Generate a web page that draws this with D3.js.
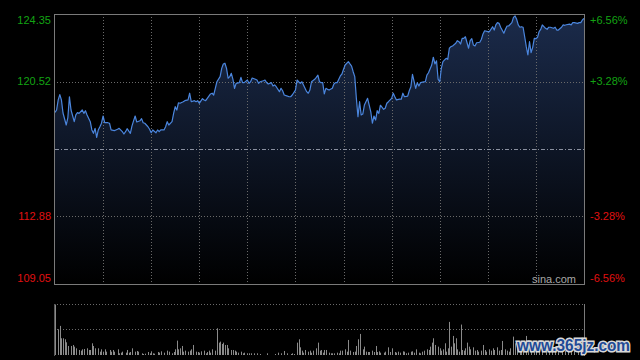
<!DOCTYPE html>
<html>
<head>
<meta charset="utf-8">
<script src="https://cdn.jsdelivr.net/npm/d3@7/dist/d3.min.js"></script>
<style>
    html, body { margin: 0; padding: 0; background: #000; }
    svg { display: block; }
    text { font-family: "Liberation Sans", Arial, sans-serif; }
</style>
</head>
<body>
<svg id="chart" width="640" height="360"></svg>
<script>
// price axis labels (left), percent labels (right) and previous close
var priceTicks = [124.35, 120.52, 112.88, 109.05];
var pctTicks = ["+6.56%", "+3.28%", "-3.28%", "-6.56%"];
var prevClose = 116.70;

// minute index since open (HK session, 330 minutes) and price
var lineMinute = [0, 1, 2, 3, 4, 5, 7, 8, 9, 10, 12, 13, 14, 15, 17, 18, 19, 20, 22, 23, 24, 25, 26, 27, 28, 29, 30, 31, 33, 34, 35, 37, 38, 39, 40, 42, 43, 44, 45, 47, 48, 49, 50, 51, 53, 54, 55, 56, 58, 59, 60, 61, 63, 64, 65, 66, 68, 69, 70, 71, 73, 74, 75, 76, 77, 78, 80, 81, 83, 84, 85, 87, 88, 89, 90, 92, 93, 94, 95, 97, 98, 99, 100, 101, 103, 104, 105, 106, 107, 108, 109, 110, 111, 112, 113, 115, 116, 117, 118, 120, 121, 122, 123, 125, 126, 127, 128, 130, 131, 132, 133, 135, 136, 137, 138, 140, 141, 142, 143, 145, 146, 147, 148, 150, 151, 152, 153, 154, 155, 157, 158, 159, 160, 162, 163, 164, 165, 166, 167, 168, 169, 170, 171, 173, 174, 175, 176, 178, 179, 180, 181, 183, 184, 185, 186, 187, 188, 189, 190, 191, 192, 193, 195, 196, 197, 198, 199, 200, 201, 202, 203, 205, 206, 207, 208, 210, 211, 212, 213, 215, 216, 217, 218, 220, 221, 222, 223, 225, 226, 227, 228, 230, 231, 232, 233, 235, 236, 237, 238, 239, 240, 241, 242, 244, 245, 246, 247, 248, 250, 251, 252, 253, 254, 255, 256, 258, 259, 260, 261, 262, 263, 265, 266, 267, 268, 270, 271, 273, 274, 275, 276, 277, 278, 280, 281, 282, 283, 285, 286, 287, 288, 289, 290, 291, 292, 293, 294, 295, 296, 297, 298, 299, 300, 301, 302, 303, 304, 306, 307, 308, 309, 311, 312, 313, 314, 316, 317, 318, 319, 321, 322, 323, 324, 326, 327, 328, 329, 330];
var linePrice = [118.78, 118.91, 119.48, 119.78, 119.48, 118.74, 118.06, 118.46, 119.66, 118.91, 118.25, 118.63, 118.76, 118.72, 118.91, 118.72, 118.87, 118.63, 118.25, 117.78, 117.59, 117.87, 117.36, 117.78, 117.96, 118.16, 118.57, 118.19, 118.19, 118.16, 117.78, 117.74, 117.78, 117.82, 117.87, 117.68, 117.55, 117.68, 117.85, 117.59, 118.00, 118.29, 118.57, 118.23, 118.30, 118.42, 118.19, 118.16, 117.96, 117.82, 117.62, 117.78, 117.62, 117.78, 117.68, 117.78, 117.78, 117.96, 118.25, 118.06, 118.25, 118.72, 119.10, 118.91, 119.32, 119.29, 119.38, 119.44, 119.48, 119.86, 119.38, 119.44, 119.38, 119.44, 119.29, 119.55, 119.48, 119.44, 119.57, 119.82, 119.86, 119.76, 120.14, 120.51, 120.80, 121.27, 121.52, 121.56, 121.27, 120.71, 120.80, 120.99, 120.65, 120.14, 120.42, 120.46, 120.76, 120.46, 120.46, 120.61, 120.42, 120.51, 120.72, 120.65, 120.61, 120.42, 120.51, 120.57, 120.61, 120.46, 120.38, 120.46, 120.27, 120.33, 120.23, 119.95, 120.14, 120.00, 119.76, 119.70, 119.66, 119.66, 119.76, 120.04, 120.61, 120.51, 120.42, 120.51, 120.33, 119.95, 119.86, 120.04, 120.51, 120.65, 120.76, 120.88, 120.51, 120.46, 120.46, 119.82, 120.14, 120.08, 120.04, 120.14, 120.38, 120.46, 120.46, 120.84, 120.95, 121.22, 121.46, 121.65, 121.52, 121.40, 121.08, 120.80, 119.57, 118.53, 119.38, 118.63, 118.68, 119.19, 119.57, 119.19, 118.81, 118.16, 118.57, 118.34, 118.87, 118.72, 119.18, 118.95, 119.01, 119.29, 119.38, 119.57, 119.86, 119.66, 119.48, 119.53, 119.52, 119.86, 119.66, 119.70, 120.00, 120.23, 120.93, 120.14, 120.46, 120.27, 120.46, 120.50, 120.51, 120.89, 121.02, 121.46, 121.90, 121.52, 121.70, 120.65, 120.51, 121.27, 121.65, 121.84, 121.78, 122.41, 122.50, 122.54, 122.69, 122.84, 122.78, 122.65, 122.97, 122.97, 123.06, 122.41, 122.84, 122.95, 122.59, 122.54, 122.72, 122.75, 122.92, 123.22, 123.40, 123.35, 123.35, 123.63, 123.44, 123.73, 123.86, 123.82, 123.60, 123.26, 123.48, 123.67, 123.67, 123.86, 124.16, 124.24, 124.05, 123.73, 123.60, 123.63, 123.60, 123.06, 122.50, 122.03, 122.78, 122.16, 122.46, 122.97, 122.95, 123.03, 123.35, 123.48, 123.73, 123.54, 123.48, 123.60, 123.60, 123.54, 123.60, 123.44, 123.44, 123.60, 123.73, 123.71, 123.74, 123.78, 123.73, 123.86, 123.86, 123.82, 123.86, 123.86, 124.01, 124.10];

// volume bars (relative units)
var volMinute = [0, 2, 3, 4, 5, 6, 7, 8, 10, 11, 12, 13, 15, 16, 17, 18, 20, 21, 22, 23, 24, 25, 27, 28, 29, 30, 31, 32, 34, 35, 36, 37, 39, 40, 41, 42, 44, 45, 46, 47, 48, 50, 51, 52, 54, 55, 56, 58, 59, 60, 61, 62, 64, 65, 66, 68, 70, 71, 73, 74, 75, 76, 77, 78, 79, 80, 81, 83, 84, 85, 86, 88, 89, 90, 91, 93, 94, 95, 96, 97, 98, 100, 101, 102, 103, 104, 105, 106, 107, 108, 110, 111, 112, 113, 114, 116, 117, 118, 120, 121, 122, 124, 126, 128, 132, 137, 139, 141, 143, 145, 147, 148, 149, 151, 152, 153, 154, 155, 156, 158, 159, 160, 161, 163, 164, 165, 166, 167, 168, 169, 171, 172, 173, 174, 176, 177, 178, 179, 181, 182, 183, 184, 186, 187, 188, 189, 190, 192, 193, 194, 195, 196, 198, 199, 200, 201, 202, 203, 205, 206, 208, 209, 210, 212, 213, 214, 215, 217, 218, 219, 220, 222, 223, 224, 225, 227, 228, 229, 230, 232, 233, 234, 235, 236, 237, 239, 240, 241, 242, 243, 244, 245, 246, 247, 248, 249, 250, 251, 252, 253, 254, 255, 256, 257, 258, 259, 261, 262, 263, 264, 266, 267, 268, 269, 271, 272, 273, 274, 276, 277, 278, 279, 281, 282, 283, 284, 286, 287, 288, 290, 291, 292, 294, 295, 297, 299, 300, 302, 304, 306, 308, 310, 312, 314, 316, 318, 320, 322, 324, 326, 328, 330];
var volValue = [151, 77, 87, 50, 50, 47, 38, 27, 27, 30, 25, 20, 15, 13, 17, 18, 20, 15, 15, 35, 27, 20, 20, 10, 17, 10, 17, 10, 15, 10, 15, 10, 17, 5, 7, 10, 7, 15, 7, 9, 20, 10, 12, 10, 5, 3, 4, 9, 5, 11, 5, 4, 9, 7, 11, 7, 13, 10, 5, 9, 17, 43, 17, 20, 27, 10, 13, 10, 13, 17, 30, 10, 9, 7, 11, 13, 5, 9, 13, 7, 17, 13, 80, 37, 40, 33, 37, 30, 30, 20, 15, 15, 13, 10, 7, 10, 5, 7, 5, 5, 5, 5, 5, 3, 5, 3, 7, 5, 12, 5, 3, 5, 3, 37, 47, 23, 13, 7, 15, 10, 13, 7, 13, 20, 37, 13, 15, 7, 15, 15, 7, 5, 5, 5, 7, 5, 13, 13, 17, 10, 45, 13, 9, 10, 27, 47, 63, 17, 25, 10, 9, 9, 13, 9, 27, 9, 11, 7, 7, 10, 23, 9, 20, 9, 7, 10, 7, 11, 10, 5, 7, 10, 11, 7, 17, 7, 5, 10, 13, 17, 15, 25, 37, 50, 30, 25, 20, 13, 17, 35, 10, 20, 99, 25, 57, 35, 50, 17, 10, 91, 15, 13, 20, 37, 25, 17, 23, 13, 15, 10, 13, 30, 15, 10, 17, 13, 20, 15, 23, 13, 15, 42, 17, 13, 10, 20, 55, 35, 20, 15, 25, 12, 57, 20, 15, 30, 18, 22, 15, 12, 20, 15, 10, 18, 25, 12, 15, 20, 12, 15, 25, 40];

var svg = d3.select("#chart");
var width = 640, height = 360;

svg.append("rect").attr("width", width).attr("height", height).attr("fill", "#000");

var x = d3.scaleLinear().domain([0, 330]).range([55, 584]);
var y = d3.scaleLinear().domain([109.05, 124.35]).range([284, 14]);
var yVol = d3.scaleLinear().domain([0, 151]).range([355, 304.5]);

/**
 * crisp 1px line position
 */
function px(v) {
    return Math.round(v) + 0.5;
}

// area gradient
var defs = svg.append("defs");
var grad = defs.append("linearGradient")
    .attr("id", "areaFill")
    .attr("gradientUnits", "userSpaceOnUse")
    .attr("x1", 0).attr("y1", 14).attr("x2", 0).attr("y2", 284);
grad.append("stop").attr("offset", 0).attr("stop-color", "#1b2b4b");
grad.append("stop").attr("offset", 1).attr("stop-color", "#000");

var pts = lineMinute.map(function (m, i) { return [m, linePrice[i]]; });

svg.append("path")
    .datum(pts)
    .attr("fill", "url(#areaFill)")
    .attr("d", d3.area()
        .x(function (d) { return x(d[0]); })
        .y0(284)
        .y1(function (d) { return y(d[1]); }));

// grid
var grid = svg.append("g")
    .attr("stroke", "#6a6a6a")
    .attr("stroke-width", 1)
    .attr("stroke-dasharray", "1,2")
    .attr("shape-rendering", "crispEdges");

d3.range(30, 330, 30).forEach(function (m) {
    grid.append("line")
        .attr("x1", px(x(m))).attr("x2", px(x(m)))
        .attr("y1", 14).attr("y2", 284);
});
[120.52, 112.88].forEach(function (p) {
    grid.append("line")
        .attr("x1", 54).attr("x2", 584)
        .attr("y1", px(y(p))).attr("y2", px(y(p)));
});

// previous close
svg.append("line")
    .attr("x1", 55).attr("x2", 584)
    .attr("y1", px(y(prevClose))).attr("y2", px(y(prevClose)))
    .attr("stroke", "#8a90a0")
    .attr("stroke-dasharray", "4,2,1,2")
    .attr("shape-rendering", "crispEdges");

// price line
svg.append("path")
    .datum(pts)
    .attr("fill", "none")
    .attr("stroke", "#4b86de")
    .attr("stroke-width", 1.2)
    .attr("stroke-linejoin", "round")
    .attr("d", d3.line()
        .x(function (d) { return x(d[0]); })
        .y(function (d) { return y(d[1]); }));

// frame
svg.append("rect")
    .attr("x", 54.5).attr("y", 14.5)
    .attr("width", 530).attr("height", 270)
    .attr("fill", "none")
    .attr("stroke", "#7a7a7a")
    .attr("shape-rendering", "crispEdges");

// axis labels
priceTicks.forEach(function (p, i) {
    var col = p > prevClose ? "#13a313" : "#e01010";
    var ty = y(p);
    if (i === 0) ty += 6;
    if (i === priceTicks.length - 1) ty -= 6;
    svg.append("text")
        .attr("x", 51).attr("y", ty)
        .attr("dy", "0.35em")
        .attr("text-anchor", "end")
        .attr("font-size", 11)
        .attr("fill", col)
        .text(p.toFixed(2));
    svg.append("text")
        .attr("x", 590).attr("y", ty)
        .attr("dy", "0.35em")
        .attr("font-size", 11)
        .attr("fill", col)
        .text(pctTicks[i]);
});

svg.append("text")
    .attr("x", 532).attr("y", 279)
    .attr("dy", "0.35em")
    .attr("font-size", 11)
    .attr("fill", "#a8a8a8")
    .text("sina.com");

// volume panel
var vg = svg.append("g");
vg.append("line")
    .attr("x1", 54).attr("x2", 584).attr("y1", 304.5).attr("y2", 304.5)
    .attr("stroke", "#6a6a6a").attr("stroke-dasharray", "1,2");
vg.append("line")
    .attr("x1", 54).attr("x2", 584).attr("y1", 329.5).attr("y2", 329.5)
    .attr("stroke", "#6a6a6a").attr("stroke-dasharray", "1,2");
vg.append("line")
    .attr("x1", 584.5).attr("x2", 584.5).attr("y1", 304).attr("y2", 356)
    .attr("stroke", "#7a7a7a");
vg.append("line")
    .attr("x1", 54.5).attr("x2", 54.5).attr("y1", 304).attr("y2", 356)
    .attr("stroke", "#5a5a5a");

vg.selectAll("rect.vol")
    .data(volMinute)
    .enter().append("rect")
    .attr("class", "vol")
    .attr("x", function (m) { return Math.round(x(m)); })
    .attr("y", function (m, i) { return yVol(volValue[i]); })
    .attr("width", 1)
    .attr("height", function (m, i) { return 355 - yVol(volValue[i]); })
    .attr("fill", "#8a8a8a");

// watermark
svg.append("text")
    .attr("x", 517).attr("y", 351)
    .attr("font-family", "DejaVu Sans, sans-serif")
    .attr("font-weight", "bold")
    .attr("font-size", 17)
    .attr("textLength", 113)
    .attr("lengthAdjust", "spacingAndGlyphs")
    .attr("fill", "#1f4a96")
    .attr("stroke", "#d8d8d8")
    .attr("stroke-width", 3)
    .attr("paint-order", "stroke")
    .text("www.365jz.com");
</script>
</body>
</html>
